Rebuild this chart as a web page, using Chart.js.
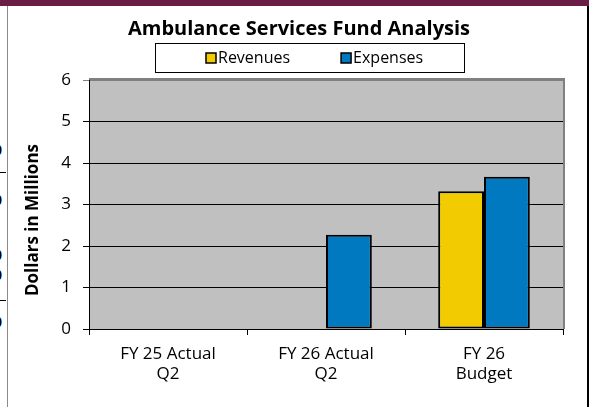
<!DOCTYPE html>
<html>
<head>
<meta charset="utf-8">
<script src="https://cdn.jsdelivr.net/npm/chart.js@4.4.1/dist/chart.umd.min.js"></script>
<style>
  body { margin: 0; background: #fff; }
  #wrap { position: relative; width: 589px; height: 407px; overflow: hidden; }
  .bar { position: absolute; left: 0; top: 0; width: 589px; height: 6px; background: #6b1d45; }
  .leftLine { position: absolute; left: 7px; top: 6px; width: 1px; height: 401px; background: #8a8a8a; }
  .rightLine { position: absolute; left: 587px; top: 6px; width: 2px; height: 401px; background: #000; }
  .cut { position: absolute; left: 0; top: 0; width: 6px; height: 407px; overflow: hidden; }
  .cut .rule { position: absolute; left: 0; width: 6px; height: 1px; background: #000; }
  .cut span { position: absolute; left: -6px; font: bold 14px "Open Sans", sans-serif; line-height: 14px; }
  canvas { position: absolute; left: 0; top: 0; }
</style>
</head>
<body>
<div id="wrap">
  <div class="bar"></div>
  <div class="leftLine"></div>
  <div class="rightLine"></div>
  <div class="cut">
    <span style="top:143px">0</span>
    <div class="rule" style="top:172px"></div>
    <span style="top:193px">0</span>
    <span style="top:248px">0</span>
    <span style="top:268px">0</span>
    <div class="rule" style="top:300px"></div>
    <span style="top:315px">0</span>
  </div>
  <canvas id="fundChart" width="589" height="407"></canvas>
</div>
<script>
// chart data
const categories = [["FY 25 Actual", "Q2"], ["FY 26 Actual", "Q2"], ["FY 26", "Budget"]];
const revenues = [null, null, 3.32];
const expenses = [null, 2.27, 3.67];
const seriesNames = ["Revenues", "Expenses"];
const yMin = 0;
const yMax = 6;
const yStep = 1;

const chartTitle = "Ambulance Services Fund Analysis";
const yTitle = "Dollars in Millions";

Chart.defaults.font.family = "'Open Sans', sans-serif";
Chart.defaults.font.size = 17;
Chart.defaults.color = "#000";

// plot background, border, title, boxed legend and axis title
const framePlugin = {
  id: "framePlugin",
  beforeDraw(chart) {
    const a = chart.chartArea;
    const ctx = chart.ctx;
    ctx.save();
    ctx.fillStyle = "#c0c0c0";
    ctx.fillRect(a.left, a.top, a.right - a.left, a.bottom - a.top);
    ctx.restore();
  },
  afterDraw(chart) {
    const a = chart.chartArea;
    const ctx = chart.ctx;
    ctx.save();

    // gray top / right border of plot
    ctx.strokeStyle = "#808080";
    ctx.lineWidth = 2;
    ctx.beginPath();
    ctx.moveTo(a.left, a.top - 1);
    ctx.lineTo(a.right + 1, a.top - 1);
    ctx.lineTo(a.right + 1, a.bottom);
    ctx.stroke();

    // title
    ctx.fillStyle = "#000";
    ctx.font = "bold 20px 'Open Sans', sans-serif";
    ctx.textAlign = "center";
    ctx.textBaseline = "middle";
    ctx.fillText(chartTitle, 299, 29.5);

    // legend box
    ctx.lineWidth = 1;
    ctx.strokeStyle = "#000";
    ctx.strokeRect(155.5, 43.5, 309, 29);
    ctx.font = "16px 'Open Sans', sans-serif";
    ctx.textAlign = "left";
    let x = 206;
    chart.data.datasets.forEach((ds) => {
      ctx.fillStyle = ds.backgroundColor;
      ctx.fillRect(x, 53, 10, 10);
      ctx.lineWidth = 1.5;
      ctx.strokeRect(x, 53, 10, 10);
      ctx.fillStyle = "#000";
      ctx.fillText(ds.label, x + 12, 58.5);
      x += 12 + ctx.measureText(ds.label).width + 51;
    });

    // y axis title
    ctx.translate(33, 220);
    ctx.rotate(-Math.PI / 2);
    ctx.font = "bold 17px 'Open Sans', sans-serif";
    ctx.textAlign = "center";
    ctx.fillText(yTitle, 0, 0);
    ctx.restore();
  },
};

const ctx = document.getElementById("fundChart").getContext("2d");
const fundChart = new Chart(ctx, {
  type: "bar",
  data: {
    labels: categories,
    datasets: [
      {
        label: seriesNames[0],
        data: revenues,
        backgroundColor: "#f2cc00",
        borderColor: "#000",
        borderWidth: 2,
        borderSkipped: false,
      },
      {
        label: seriesNames[1],
        data: expenses,
        backgroundColor: "#0079c1",
        borderColor: "#000",
        borderWidth: 2,
        borderSkipped: false,
      },
    ],
  },
  options: {
    responsive: false,
    animation: false,
    categoryPercentage: 0.58,
    barPercentage: 1,
    layout: { padding: { top: 80, right: 26, left: 0, bottom: 0 } },
    plugins: {
      legend: { display: false },
      title: { display: false },
      tooltip: { enabled: false },
    },
    scales: {
      x: {
        afterFit: (scale) => { scale.height = 78; },
        border: { color: "#000", width: 1 },
        grid: { drawOnChartArea: false, tickLength: 6, color: "#000" },
        ticks: { padding: 9, font: { size: 17, lineHeight: 20 / 17 }, maxRotation: 0 },
      },
      y: {
        min: yMin,
        max: yMax,
        afterFit: (scale) => { scale.width = 89; },
        border: { color: "#000", width: 1 },
        grid: {
          tickLength: 6,
          color: (c) => (c.tick && c.tick.value === yMax ? "#808080" : "#000"),
        },
        ticks: { stepSize: yStep, padding: 12, font: { size: 17 } },
      },
    },
  },
  plugins: [framePlugin],
});
</script>
</body>
</html>
